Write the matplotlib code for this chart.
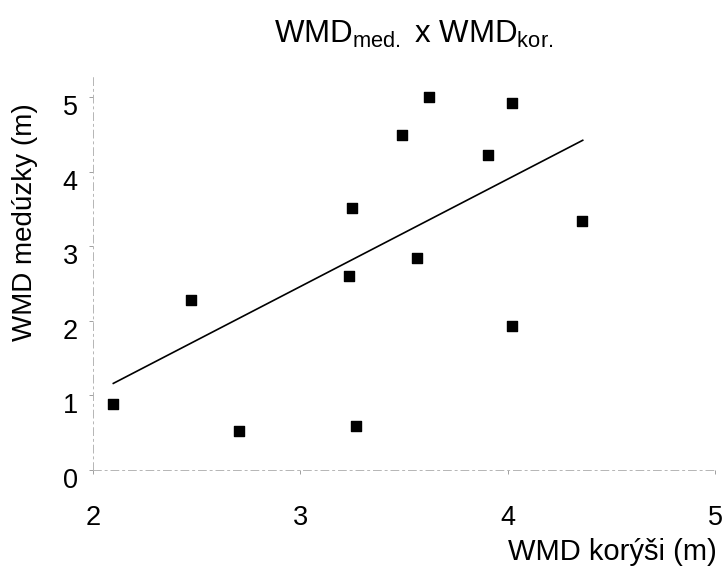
import matplotlib
matplotlib.use("Agg")
import matplotlib.pyplot as plt
import matplotlib.transforms as mtransforms

plt.rcParams['font.family'] = ['Liberation Sans', 'DejaVu Sans']
plt.rcParams['mathtext.fontset'] = 'custom'
plt.rcParams['mathtext.rm'] = 'Liberation Sans'
plt.rcParams['mathtext.it'] = 'Liberation Sans'

# Data
wmd_kor = [2.098, 2.473, 2.706, 3.235, 3.251, 3.269, 3.492, 3.563, 3.621, 3.907, 4.023, 4.020, 4.357]
wmd_med = [0.885, 2.279, 0.523, 2.601, 3.516, 0.590, 4.500, 2.846, 5.004, 4.223, 4.924, 1.930, 3.338]
fit_x = [2.098, 4.362]
fit_y = [1.162, 4.424]
x_ticks = [2, 3, 4, 5]
y_ticks = [0, 1, 2, 3, 4, 5]

W, H = 723, 567
fig = plt.figure(figsize=(W / 100, H / 100), dpi=100)
left, right = 93 / W, 715 / W
bottom_px, top_px = 470, 75
ax = fig.add_axes([left, 1 - bottom_px / H, right - left, (bottom_px - top_px) / H])

ax.plot(fit_x, fit_y, color='black', lw=1.2, zorder=2)
ax.scatter(wmd_kor, wmd_med, marker='s', s=46, color='black', zorder=3, clip_on=False)

ax.set_xlim(2, 5)
ax.set_ylim(0, 5.3)
ax.set_xticks(x_ticks)
ax.set_yticks(y_ticks)
ax.set_xticklabels([str(v) for v in x_ticks])
ax.set_yticklabels([str(v) for v in y_ticks])

for s in ['top', 'right']:
    ax.spines[s].set_visible(False)
for s in ['left', 'bottom']:
    ax.spines[s].set_color('#b5b5b5')
    ax.spines[s].set_linewidth(0.7)
    ax.spines[s].set_linestyle((0, (8, 4, 2, 4)))

ax.tick_params(axis='both', direction='out', length=3, width=0.7, color='#a0a0a0',
               labelsize=19.5, labelcolor='black')
ax.tick_params(axis='x', pad=22)
ax.tick_params(axis='y', pad=8)

offset = mtransforms.ScaledTranslation(0, -8 / 100, fig.dpi_scale_trans)
for lab in ax.get_yticklabels():
    lab.set_transform(lab.get_transform() + offset)

fig.text(414 / W, 1 - 43 / H, r'WMD$_{\mathrm{med.}}$ x WMD$_{\mathrm{kor.}}$',
         ha='center', va='baseline', fontsize=22.5)
fig.text(717 / W, 1 - 560 / H, 'WMD korýši (m)', ha='right', va='baseline', fontsize=21)
fig.text(25 / W, 1 - 222 / H, 'WMD medúzky (m)', ha='center', va='center',
         rotation=90, fontsize=20)

fig.savefig('out.png', dpi=100)
